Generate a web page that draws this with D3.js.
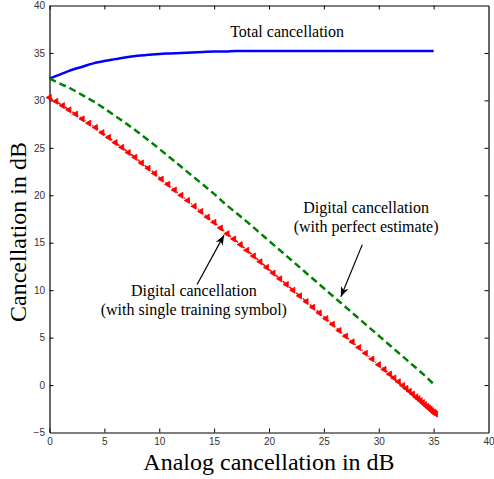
<!DOCTYPE html>
<html>
<head>
<meta charset="utf-8">
<script src="https://cdn.jsdelivr.net/npm/d3@7"></script>
<style>
  body { margin: 0; background: #fff; }
  .tick text { font-family: "Liberation Sans", Arial, sans-serif; font-size: 10px; fill: #333; }
  .label { font-family: "Liberation Serif", "Times New Roman", serif; fill: #000; }
</style>
</head>
<body>
<div id="chart-area"></div>
<script>
// Data
const xTicks = [0, 5, 10, 15, 20, 25, 30, 35, 40]
const yTicks = [-5, 0, 5, 10, 15, 20, 25, 30, 35, 40]

// Total cancellation (blue solid)
const totalX = [0, 1, 2, 3, 4, 5, 6, 7, 8, 9, 10, 11, 12, 13, 14, 15, 16, 17, 18, 20, 22, 25, 28, 30, 32, 35]
const totalY = [32.3, 32.75, 33.2, 33.55, 33.9, 34.15, 34.35, 34.55, 34.7, 34.8, 34.9, 34.95, 35.0, 35.05, 35.1, 35.15, 35.15, 35.2, 35.2, 35.2, 35.2, 35.2, 35.2, 35.2, 35.2, 35.2]

// Digital cancellation, perfect estimate (green dashed)
const perfectX = [0, 1, 2, 3, 4, 5, 6, 7, 8, 9, 10, 11, 12, 13, 14, 15, 16, 17, 18, 19, 20, 21, 22, 23, 24, 25, 26, 27, 28, 29, 30, 31, 32, 33, 34, 35]
const perfectY = [32.3, 31.75, 31.2, 30.55, 29.9, 29.15, 28.35, 27.55, 26.7, 25.8, 24.9, 23.95, 23.0, 22.05, 21.1, 20.15, 19.1, 18.15, 17.2, 16.2, 15.2, 14.2, 13.2, 12.2, 11.2, 10.2, 9.2, 8.2, 7.2, 6.2, 5.2, 4.2, 3.2, 2.2, 1.2, 0.1]

// Digital cancellation, single training symbol (red dash-dot with triangles)
const singleX = [0, 0.6, 1.2, 1.8, 2.4, 3, 3.6, 4.2, 4.8, 5.4, 6, 6.6, 7.2, 7.8, 8.4, 9, 9.6, 10.2, 10.8, 11.4,
  12, 12.6, 13.2, 13.8, 14.4, 15, 15.6, 16.2, 16.8, 17.4, 18, 18.6, 19.2, 19.8, 20.4, 21, 21.6, 22.2, 22.8, 23.4,
  24, 24.6, 25.2, 25.8, 26.4, 27, 27.6, 28.2, 28.8, 29.4, 30, 30.5, 31, 31.4, 31.8, 32.2, 32.5, 32.8, 33.1, 33.4,
  33.6, 33.8, 34, 34.2, 34.4, 34.55, 34.7, 34.85, 35, 35.1, 35.2]
const singleY = [30.3, 29.9, 29.45, 29.0, 28.55, 28.05, 27.6, 27.15, 26.6, 26.1, 25.55, 25.05, 24.5, 24.0, 23.4, 22.85, 22.3, 21.7, 21.15, 20.55,
  20.0, 19.45, 18.85, 18.3, 17.7, 17.15, 16.55, 15.95, 15.4, 14.8, 14.2, 13.6, 13.0, 12.4, 11.8, 11.2, 10.6, 10.0, 9.4, 8.8,
  8.2, 7.6, 7.0, 6.4, 5.75, 5.15, 4.55, 3.95, 3.35, 2.75, 2.15, 1.65, 1.15, 0.75, 0.35, -0.05, -0.35, -0.65, -0.95, -1.25,
  -1.45, -1.65, -1.85, -2.05, -2.25, -2.4, -2.55, -2.7, -2.85, -2.95, -3.05]

const WIDTH = 494
const HEIGHT = 479
const PLOT = { LEFT: 49.5, RIGHT: 488.5, TOP: 5.5, BOTTOM: 432.5 }

const svg = d3.select('#chart-area').append('svg')
  .attr('width', WIDTH)
  .attr('height', HEIGHT)

const x = d3.scaleLinear().domain([0, 40]).range([PLOT.LEFT, PLOT.RIGHT])
const y = d3.scaleLinear().domain([-5, 40]).range([PLOT.BOTTOM, PLOT.TOP])

// Axes (inward ticks, box on all four sides)
svg.append('g')
  .attr('transform', `translate(0, ${PLOT.BOTTOM})`)
  .call(d3.axisBottom(x).tickValues(xTicks).tickSize(-4).tickSizeOuter(0).tickPadding(5))
svg.append('g')
  .attr('transform', `translate(0, ${PLOT.TOP})`)
  .call(d3.axisTop(x).tickValues(xTicks).tickSize(-4).tickSizeOuter(0).tickFormat(''))
svg.append('g')
  .attr('transform', `translate(${PLOT.LEFT}, 0)`)
  .call(d3.axisLeft(y).tickValues(yTicks).tickSize(-4).tickSizeOuter(0).tickPadding(4.5)
    .tickFormat(d => d < 0 ? '\u2212' + Math.abs(d) : d))
svg.append('g')
  .attr('transform', `translate(${PLOT.RIGHT}, 0)`)
  .call(d3.axisRight(y).tickValues(yTicks).tickSize(-4).tickSizeOuter(0).tickFormat(''))

svg.selectAll('.domain').attr('stroke', '#000').attr('stroke-width', 1.2)
svg.selectAll('.tick line').attr('stroke', '#000')
svg.selectAll('.tick').filter(d => d === 40 || d === -5).select('line').remove()

const line = d3.line().x(d => x(d[0])).y(d => y(d[1]))

// Total cancellation
svg.append('path')
  .datum(d3.zip(totalX, totalY))
  .attr('d', line.curve(d3.curveMonotoneX))
  .attr('fill', 'none')
  .attr('stroke', '#0000ff')
  .attr('stroke-width', 2.5)

// Perfect estimate
svg.append('path')
  .datum(d3.zip(perfectX, perfectY))
  .attr('d', line.curve(d3.curveMonotoneX))
  .attr('fill', 'none')
  .attr('stroke', '#008000')
  .attr('stroke-width', 2.5)
  .attr('stroke-dasharray', '7,4')

// Single training symbol
const single = d3.zip(singleX, singleY)
svg.append('path')
  .datum(single)
  .attr('d', line.curve(d3.curveLinear))
  .attr('fill', 'none')
  .attr('stroke', '#ff0000')
  .attr('stroke-width', 1.5)
  .attr('stroke-dasharray', '4,2,1,2')

const tri = d3.symbol().type(d3.symbolTriangle).size(16)
svg.append('g').selectAll('path')
  .data(single)
  .enter().append('path')
  .attr('d', tri)
  .attr('transform', d => `translate(${x(d[0])}, ${y(d[1])}) rotate(-90)`)
  .attr('fill', '#ff0000')
  .attr('stroke', '#ff0000')
  .attr('stroke-width', 0.8)

// Annotations
svg.append('defs').append('marker')
  .attr('id', 'head')
  .attr('viewBox', '0 0 10 10')
  .attr('refX', 10).attr('refY', 5)
  .attr('markerWidth', 10).attr('markerHeight', 10)
  .attr('markerUnits', 'userSpaceOnUse')
  .attr('orient', 'auto')
  .append('path')
  .attr('d', 'M0,1 L10,5 L0,9 L3,5 Z')
  .attr('fill', '#000')

const arrows = [
  { from: [13.45, 10.6], to: [15.9, 15.8] },
  { from: [28.5, 14.8], to: [26.55, 9.3] }
]
arrows.forEach(a => {
  svg.append('line')
    .attr('x1', x(a.from[0])).attr('y1', y(a.from[1]))
    .attr('x2', x(a.to[0])).attr('y2', y(a.to[1]))
    .attr('stroke', '#000')
    .attr('stroke-width', 1.2)
    .attr('marker-end', 'url(#head)')
})

const notes = [
  { x: 21.65, y: 36.7, text: 'Total cancellation' },
  { x: 28.85, y: 18.1, text: 'Digital cancellation' },
  { x: 28.85, y: 16.1, text: '(with perfect estimate)' },
  { x: 13.15, y: 9.35, text: 'Digital cancellation' },
  { x: 13.15, y: 7.35, text: '(with single training symbol)' }
]
svg.selectAll('.note')
  .data(notes)
  .enter().append('text')
  .attr('class', 'label note')
  .attr('x', d => x(d.x))
  .attr('y', d => y(d.y))
  .attr('text-anchor', 'middle')
  .attr('font-size', '16px')
  .text(d => d.text)

// x-label
svg.append('text')
  .attr('class', 'label')
  .attr('x', (PLOT.LEFT + PLOT.RIGHT) / 2)
  .attr('y', 470)
  .attr('text-anchor', 'middle')
  .attr('font-size', '24px')
  .text('Analog cancellation in dB')

// y-label
svg.append('text')
  .attr('class', 'label')
  .attr('transform', 'rotate(-90)')
  .attr('x', -232)
  .attr('y', 26)
  .attr('text-anchor', 'middle')
  .attr('font-size', '24px')
  .text('Cancellation in dB')
</script>
</body>
</html>
